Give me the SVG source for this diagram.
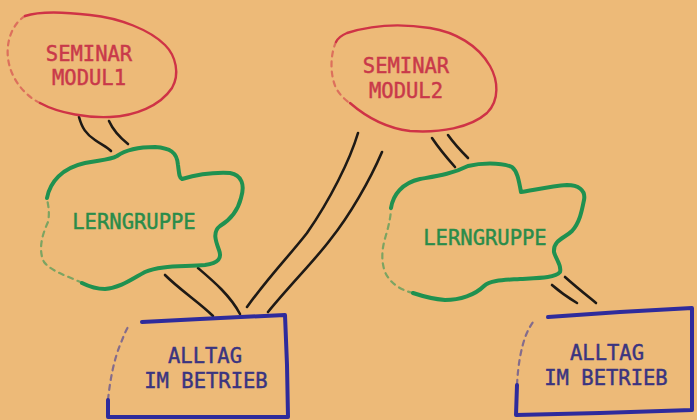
<svg xmlns="http://www.w3.org/2000/svg" width="697" height="420" viewBox="0 0 697 420">
<defs>
<style>
.bg{fill:#edba78}
.red{fill:none;stroke:#cf3346;stroke-width:2.4;stroke-linecap:round;stroke-linejoin:round}
.green{fill:none;stroke:#1f9150;stroke-width:4;stroke-linecap:round;stroke-linejoin:round}
.blue{fill:none;stroke:#2e2b9c;stroke-width:4;stroke-linecap:round;stroke-linejoin:round}
.faint{stroke-dasharray:5 5;opacity:0.55;stroke-width:2.2}
.line{fill:none;stroke:#1e1a16;stroke-width:2.6;stroke-linecap:round}
text{font-family:"DejaVu Sans Mono","Liberation Mono",monospace;font-size:20.5px;text-anchor:middle;stroke-width:0.45}
.tr{fill:#c9394a;stroke:#c9394a}
.tg{fill:#2a8c4a;stroke:#2a8c4a}
.tb{fill:#3a3480;stroke:#3a3480}
</style>
</defs>
<rect class="bg" x="0" y="0" width="697" height="420"/>
<g id="connectors">
<path class="line" d="M79,117 C82,128 86,134 95,140 C102,145 107,147 111,151"/>
<path class="line" d="M109,121 C113,130 118,136 128,144"/>
<path class="line" d="M165,275 C180,290 200,303 213,316"/>
<path class="line" d="M198,268 C212,280 230,295 240,314"/>
<path class="line" d="M358,133 C350,160 330,200 307,233 C290,255 270,275 247,307"/>
<path class="line" d="M382,152 C370,180 350,215 330,240 C315,260 290,285 268,312"/>
<path class="line" d="M432,138 C440,150 447,158 455,167"/>
<path class="line" d="M448,135 C455,145 461,151 468,158"/>
<path class="line" d="M552,285 C560,292 567,297 577,303"/>
<path class="line" d="M565,277 C575,286 585,294 596,303"/>
</g>
<g id="seminar1">
<path class="red" d="M40,103 C60,114 90,118 110,117 C135,116 160,106 172,88 C180,74 176,56 165,45 C150,30 120,18 90,15 C65,12 40,11 25,16"/>
<path class="red faint" d="M25,16 C12,24 6,42 8,58 C10,76 22,94 40,103"/>
<text class="tr" x="89" y="61">SEMINAR</text>
<text class="tr" x="89" y="85">MODUL1</text>
</g>
<g id="seminar2">
<path class="red" d="M350,103 C365,116 385,128 410,131 C440,133 470,128 487,113 C500,100 498,80 490,66 C478,45 455,32 430,28 C405,24 375,24 347,33 C342,35 338,38 336,42"/>
<path class="red faint" d="M336,42 C330,55 330,75 336,88 C340,95 345,100 350,103"/>
<text class="tr" x="406" y="73">SEMINAR</text>
<text class="tr" x="406" y="98">MODUL2</text>
</g>
<g id="lerngruppe1">
<path class="green" d="M47,198 C50,182 62,168 85,163 C100,160 110,160 117,156 C127,149 140,147 155,147 C170,148 177,152 178,165 C179,172 179,178 182,179 C192,176 210,172 230,173 C242,175 245,185 241,198 C238,210 230,220 220,226 C212,232 216,242 219,250 C222,258 219,263 205,265 C185,267 160,265 145,272 C132,279 120,288 105,289 C95,289 88,286 82,283"/>
<path class="green faint" d="M82,283 C68,276 52,272 44,262 C38,250 42,235 48,222 C50,212 48,205 47,198"/>
<text class="tg" x="134" y="229">LERNGRUPPE</text>
</g>
<g id="lerngruppe2">
<path class="green" d="M391,208 C393,195 402,183 420,179 C437,176 452,174 468,166 C480,163 500,162 512,167 C518,172 519,182 521,192 C530,191 550,186 567,185 C578,185 586,190 584,200 C582,210 580,222 572,231 C565,238 553,240 554,252 C556,260 562,265 560,272 C555,278 540,278 520,279 C505,280 490,280 484,286 C475,295 460,300 445,300 C432,299 422,296 413,293"/>
<path class="green faint" d="M413,293 C400,290 390,283 385,272 C380,258 383,245 386,235 C389,225 391,215 391,208"/>
<text class="tg" x="485" y="245">LERNGRUPPE</text>
</g>
<g id="alltag1">
<path class="blue" d="M142,322 L200,319 L285,315 L287,365 L288,417 L200,417 L108,417 L108,400"/>
<path class="blue faint" d="M108,400 C110,380 114,360 120,345 C123,338 125,332 128,327"/>
<text class="tb" x="205" y="363">ALLTAG</text>
<text class="tb" x="206" y="388">IM BETRIEB</text>
</g>
<g id="alltag2">
<path class="blue" d="M548,317 L620,312 L692,308 L692,360 L692,410 L600,413 L516,415 L517,385"/>
<path class="blue faint" d="M517,385 C518,365 521,348 526,335 C529,328 531,325 533,322"/>
<text class="tb" x="607" y="360">ALLTAG</text>
<text class="tb" x="606" y="385">IM BETRIEB</text>
</g>
</svg>
